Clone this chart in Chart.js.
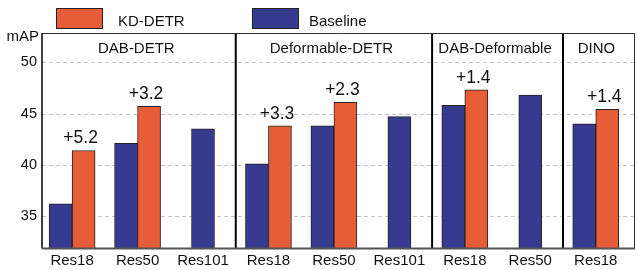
<!DOCTYPE html>
<html>
<head>
<meta charset="utf-8">
<script src="https://cdn.jsdelivr.net/npm/chart.js@4"></script>
<style>
  body { margin: 0; background: #fff; }
  #wrap { width: 638px; height: 270px; position: relative; }
</style>
</head>
<body>
<div id="wrap"><canvas id="chart"></canvas></div>
<script>
// Chart data
var categories = ["Res18", "Res50", "Res101", "Res18", "Res50", "Res101", "Res18", "Res50", "Res18"];
var baselineValues = [36.2, 42.1, 43.5, 40.1, 43.8, 44.7, 45.8, 46.8, 44.0];
var kdValues = [41.4, 45.7, null, 43.8, 46.1, null, 47.3, null, 45.4];
var gainLabels = ["+5.2", "+3.2", null, "+3.3", "+2.3", null, "+1.4", null, "+1.4"];
var groupNames = ["DAB-DETR", "Deformable-DETR", "DAB-Deformable", "DINO"];
var groupSizes = [3, 3, 2, 1];
var yTicks = [35, 40, 45, 50];

var FONT = "'Liberation Sans', Arial, Helvetica, sans-serif";
var ORANGE = "#E65D38";
var BLUE = "#373B8F";

function toPoints(values) {
  return values.map(function (v, i) {
    return { x: i, y: v };
  });
}

// Dashed horizontal grid lines behind the bars
var dashedGrid = {
  id: "dashedGrid",
  beforeDatasetsDraw: function (chart) {
    var ctx = chart.ctx;
    var area = chart.chartArea;
    var ys = chart.scales.y;
    ctx.save();
    ctx.strokeStyle = "#c4c4c4";
    ctx.lineWidth = 1;
    ctx.setLineDash([4, 3]);
    yTicks.forEach(function (v) {
      var y = Math.round(ys.getPixelForValue(v)) + 0.5;
      ctx.beginPath();
      ctx.moveTo(area.left, y);
      ctx.lineTo(area.right, y);
      ctx.stroke();
    });
    ctx.restore();
  }
};

// Draws the frame, group dividers, group titles, gain labels, legend and axis title
var decorations = {
  id: "decorations",
  afterDatasetsDraw: function (chart) {
    var ctx = chart.ctx;
    var area = chart.chartArea;
    var xs = chart.scales.x;

    ctx.save();

    // group dividers and titles
    var start = 0;
    for (var g = 0; g < groupNames.length; g++) {
      var end = start + groupSizes[g];
      var left = start === 0 ? area.left : xs.getPixelForValue(start - 0.5);
      var right = end === categories.length ? area.right : xs.getPixelForValue(end - 0.5);
      if (end < categories.length) {
        ctx.strokeStyle = "#000";
        ctx.lineWidth = 2;
        ctx.beginPath();
        ctx.moveTo(right, area.top);
        ctx.lineTo(right, area.bottom);
        ctx.stroke();
      }
      ctx.fillStyle = "#111";
      ctx.font = "15px " + FONT;
      ctx.textAlign = "center";
      ctx.textBaseline = "middle";
      ctx.fillText(groupNames[g], (left + right) / 2 - 2.5, 49);
      start = end;
    }

    // frame
    ctx.lineWidth = 1;
    ctx.strokeStyle = "#333";
    ctx.beginPath();
    ctx.moveTo(area.left, area.top + 0.5);
    ctx.lineTo(area.right, area.top + 0.5);
    ctx.moveTo(area.right - 0.5, area.top);
    ctx.lineTo(area.right - 0.5, area.bottom);
    ctx.stroke();
    ctx.strokeStyle = "#000";
    ctx.lineWidth = 1.5;
    ctx.beginPath();
    ctx.moveTo(area.left, area.top);
    ctx.lineTo(area.left, area.bottom);
    ctx.stroke();
    ctx.strokeStyle = "#555";
    ctx.lineWidth = 2;
    ctx.beginPath();
    ctx.moveTo(area.left, area.bottom);
    ctx.lineTo(area.right, area.bottom);
    ctx.stroke();

    // gain labels above the KD-DETR bars
    var kdMeta = chart.getDatasetMeta(1);
    ctx.font = "17.5px " + FONT;
    ctx.fillStyle = "#111";
    ctx.textAlign = "center";
    ctx.textBaseline = "alphabetic";
    for (var i = 0; i < gainLabels.length; i++) {
      if (!gainLabels[i] || kdValues[i] === null) continue;
      var bar = kdMeta.data[i];
      ctx.fillText(gainLabels[i], bar.x - 3, bar.y - 7);
    }

    // axis title
    ctx.font = "15px " + FONT;
    ctx.textAlign = "right";
    ctx.textBaseline = "middle";
    ctx.fillText("mAP", 39, 36.5);

    // legend (KD-DETR first, then Baseline)
    var legendItems = [
      { ds: chart.data.datasets[1], boxX: 56, textX: 118 },
      { ds: chart.data.datasets[0], boxX: 252, textX: 309 }
    ];
    legendItems.forEach(function (item) {
      ctx.fillStyle = item.ds.backgroundColor;
      ctx.fillRect(item.boxX, 8, 47, 21);
      ctx.strokeStyle = "#222";
      ctx.lineWidth = 1;
      ctx.strokeRect(item.boxX + 0.5, 8.5, 46, 20);
      ctx.fillStyle = "#111";
      ctx.textAlign = "left";
      ctx.textBaseline = "middle";
      ctx.font = "15px " + FONT;
      ctx.fillText(item.ds.label, item.textX, 21.5);
    });

    ctx.restore();
  }
};

var ctx = document.getElementById("chart").getContext("2d");
new Chart(ctx, {
  type: "bar",
  data: {
    datasets: [
      {
        label: "Baseline",
        data: toPoints(baselineValues),
        backgroundColor: BLUE,
        borderColor: "#222",
        borderWidth: 1,
        barThickness: 23,
        skipNull: true
      },
      {
        label: "KD-DETR",
        data: toPoints(kdValues),
        backgroundColor: ORANGE,
        borderColor: "#222",
        borderWidth: 1,
        barThickness: 23,
        skipNull: true
      }
    ]
  },
  options: {
    responsive: true,
    maintainAspectRatio: false,
    animation: false,
    layout: { padding: { top: 33, right: 3, left: 0, bottom: 0 } },
    plugins: {
      legend: { display: false },
      tooltip: { enabled: false }
    },
    scales: {
      x: {
        type: "linear",
        offset: false,
        min: -0.46,
        max: 8.6,
        grid: { display: false, drawTicks: false, offset: false },
        border: { display: false },
        afterBuildTicks: function (scale) {
          scale.ticks = categories.map(function (c, i) {
            return { value: i };
          });
        },
        afterFit: function (scale) {
          scale.height = 21.5;
        },
        ticks: {
          autoSkip: false,
          maxRotation: 0,
          padding: 3,
          color: "#111",
          font: { family: FONT, size: 15 },
          callback: function (value) {
            return categories[value];
          }
        }
      },
      y: {
        min: 31.85,
        max: 52.85,
        grid: { display: false, drawTicks: false },
        border: { display: false },
        afterBuildTicks: function (scale) {
          scale.ticks = yTicks.map(function (v) {
            return { value: v };
          });
        },
        afterFit: function (scale) {
          scale.width = 42;
        },
        ticks: {
          padding: 5,
          color: "#111",
          font: { family: FONT, size: 14.5 }
        }
      }
    }
  },
  plugins: [dashedGrid, decorations]
});
</script>
</body>
</html>
